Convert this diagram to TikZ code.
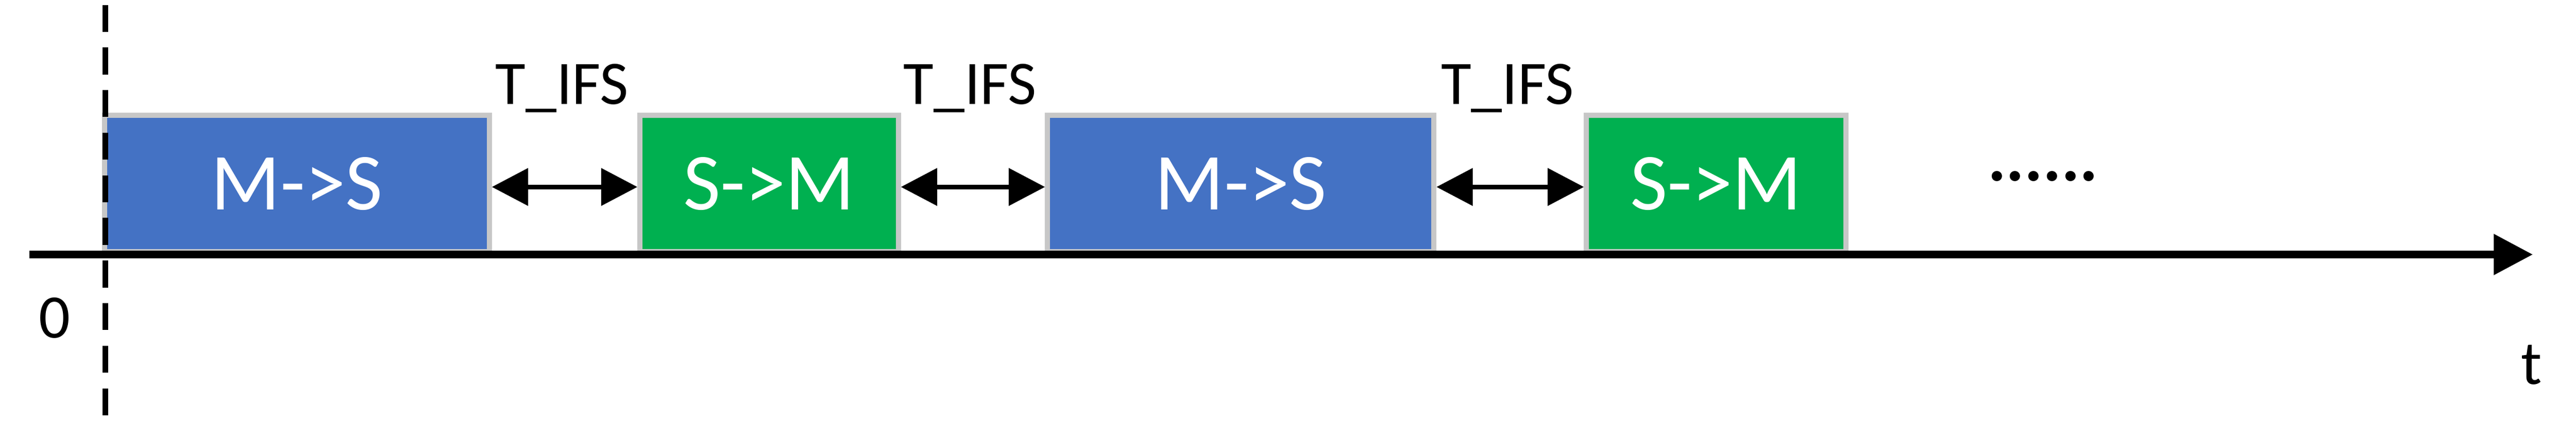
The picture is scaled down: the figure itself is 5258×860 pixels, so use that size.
\documentclass[tikz,border=0pt]{standalone}
\usepackage{fontspec}
\setmainfont{Carlito}
\usetikzlibrary{arrows.meta}
\definecolor{mblue}{HTML}{4472C4}
\definecolor{sgreen}{HTML}{00B050}
\begin{document}
\begin{tikzpicture}[x=0.01cm,y=-0.01cm,
  pkt/.style={draw=black!22,line width=3pt,minimum height=2.79cm,inner sep=0,text=white,font=\fontsize{47}{50}\selectfont,anchor=south west},
  lbl/.style={font=\fontsize{36}{40}\selectfont},
  gap/.style={{Triangle[length=0.74cm,width=0.75cm]}-{Triangle[length=0.74cm,width=0.75cm]},line width=2.8pt}]
\useasboundingbox (0,0) rectangle (5258,860);
\node[pkt,fill=mblue,minimum width=7.85cm] (b1) at (208,520) {M->S};
\node[pkt,fill=sgreen,minimum width=5.27cm] (b2) at (1301,520) {S->M};
\node[pkt,fill=mblue,minimum width=7.88cm] (b3) at (2133,520) {M->S};
\node[pkt,fill=sgreen,minimum width=5.29cm] (b4) at (3233,520) {S->M};
\draw[dashed,line width=3.2pt,dash pattern=on 0.55cm off 0.32cm] (215,10) -- (215,860);
\coordinate (a0) at (60,520);
\coordinate (a1) at (5170,520);
\draw[line width=4.5pt,-{Triangle[length=0.8cm,width=0.8cm]}] (a0) -- (a1);
\draw[gap] (b1.east |- 0,382) -- (b2.west |- 0,382);
\draw[gap] (b2.east |- 0,382) -- (b3.west |- 0,382);
\draw[gap] (b3.east |- 0,382) -- (b4.west |- 0,382);
\node[lbl] (l1) at (1147,180) {T\_IFS};
\node[lbl] (l2) at (1980,180) {T\_IFS};
\node[lbl] (l3) at (3077,180) {T\_IFS};
\node[lbl,font=\fontsize{40}{44}\selectfont\bfseries] (dots) at (4170,360) {......};
\node[lbl] (zero) at (111,650) {0};
\node[lbl] (t) at (5167,745) {t};
\end{tikzpicture}
\end{document}
